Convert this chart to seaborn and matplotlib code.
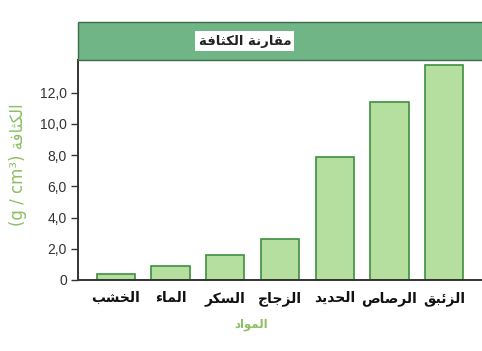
import matplotlib
matplotlib.use("Agg")
import matplotlib.pyplot as plt
from matplotlib.patches import Rectangle
import seaborn as sns
import pandas as pd

materials = ["الخشب", "الماء", "السكر", "الزجاج", "الحديد", "الرصاص", "الزئبق"]
density = [0.4, 0.9, 1.6, 2.6, 7.9, 11.4, 13.8]
yticks = [0, 2, 4, 6, 8, 10, 12]
ytick_labels = ["0", "2,0", "4,0", "6,0", "8,0", "10,0", "12,0"]
title_text = "مقارنة الكثافة"
ylabel_ar = "الكثافة"
ylabel_unit = "(g / cm³)"
xlabel_text = "المواد"

# --- minimal Arabic shaping (presentation forms) since matplotlib has no CTL ---
FORMS = {
    "ء": (0xFE80, None, None, None),
    "ئ": (0xFE89, 0xFE8A, 0xFE8B, 0xFE8C),
    "ا": (0xFE8D, 0xFE8E, None, None),
    "ب": (0xFE8F, 0xFE90, 0xFE91, 0xFE92),
    "ة": (0xFE93, 0xFE94, None, None),
    "ت": (0xFE95, 0xFE96, 0xFE97, 0xFE98),
    "ث": (0xFE99, 0xFE9A, 0xFE9B, 0xFE9C),
    "ج": (0xFE9D, 0xFE9E, 0xFE9F, 0xFEA0),
    "ح": (0xFEA1, 0xFEA2, 0xFEA3, 0xFEA4),
    "خ": (0xFEA5, 0xFEA6, 0xFEA7, 0xFEA8),
    "د": (0xFEA9, 0xFEAA, None, None),
    "ر": (0xFEAD, 0xFEAE, None, None),
    "ز": (0xFEAF, 0xFEB0, None, None),
    "س": (0xFEB1, 0xFEB2, 0xFEB3, 0xFEB4),
    "ش": (0xFEB5, 0xFEB6, 0xFEB7, 0xFEB8),
    "ص": (0xFEB9, 0xFEBA, 0xFEBB, 0xFEBC),
    "ف": (0xFED1, 0xFED2, 0xFED3, 0xFED4),
    "ق": (0xFED5, 0xFED6, 0xFED7, 0xFED8),
    "ك": (0xFED9, 0xFEDA, 0xFEDB, 0xFEDC),
    "ل": (0xFEDD, 0xFEDE, 0xFEDF, 0xFEE0),
    "م": (0xFEE1, 0xFEE2, 0xFEE3, 0xFEE4),
    "ن": (0xFEE5, 0xFEE6, 0xFEE7, 0xFEE8),
    "و": (0xFEED, 0xFEEE, None, None),
    "ي": (0xFEF1, 0xFEF2, 0xFEF3, 0xFEF4),
}


def shape(text):
    out = []
    n = len(text)
    for i, ch in enumerate(text):
        f = FORMS.get(ch)
        if f is None:
            out.append(ch)
            continue
        prev = text[i - 1] if i > 0 else None
        nxt = text[i + 1] if i < n - 1 else None
        jp = prev in FORMS and FORMS[prev][2] is not None and f[1] is not None
        jn = f[2] is not None and nxt in FORMS and FORMS[nxt][1] is not None
        if jp and jn:
            code = f[3]
        elif jp:
            code = f[1]
        elif jn:
            code = f[2]
        else:
            code = f[0]
        out.append(chr(code))
    return "".join(out)[::-1]


sns.set_style("white")
plt.rcParams["font.family"] = ["Liberation Sans", "DejaVu Sans"]

df = pd.DataFrame({"material": materials, "density": density})

fig = plt.figure(figsize=(4.82, 3.51), dpi=100)
ax = fig.add_axes([0.162, 0.2023, 0.838, 0.627])

sns.barplot(data=df, x="material", y="density", ax=ax, width=0.7,
            color="#b4df9f", edgecolor="#3f8f3f", linewidth=1.2, saturation=1)

ax.set_xlim(-0.69, 6.69)
ax.set_ylim(0, 14.1)
ax.set_yticks(yticks)
ax.set_yticklabels(ytick_labels, fontsize=10, color="#333333")
ax.set_xticks(range(len(materials)))
ax.set_xticklabels([shape(m) for m in materials], fontsize=10, color="#111111",
                   family=["DejaVu Sans"], fontweight="bold")
ax.tick_params(axis="y", length=5, width=1, color="#333333", pad=3, left=True)
ax.tick_params(axis="x", length=0, pad=8)
for s in ["top", "right"]:
    ax.spines[s].set_visible(False)
for s in ["left", "bottom"]:
    ax.spines[s].set_color("#333333")
    ax.spines[s].set_linewidth(1.4)
ax.set_xlabel("")
ax.set_ylabel("")

# header band
fig.patches.append(Rectangle((0.162, 0.829), 0.85, 0.108, transform=fig.transFigure,
                             facecolor="#70b585", edgecolor="#3d6b4a", linewidth=1.0))
fig.text(0.508, 0.883, shape(title_text), ha="center", va="center", fontsize=9.5,
         color="#222222", family=["DejaVu Sans"], fontweight="bold",
         bbox=dict(boxstyle="square,pad=0.25", facecolor="white", edgecolor="none"))

# y label (rotated, reads bottom to top)
fig.text(0.038, 0.53, ylabel_unit + " " + shape(ylabel_ar), rotation=90,
         ha="center", va="center", fontsize=12, color="#8cc063",
         family=["DejaVu Sans"])
# x label
fig.text(0.52, 0.075, shape(xlabel_text), ha="center", va="center", fontsize=8.5,
         color="#8cc063", family=["DejaVu Sans"], fontweight="bold")

fig.savefig("out.png", dpi=100)
